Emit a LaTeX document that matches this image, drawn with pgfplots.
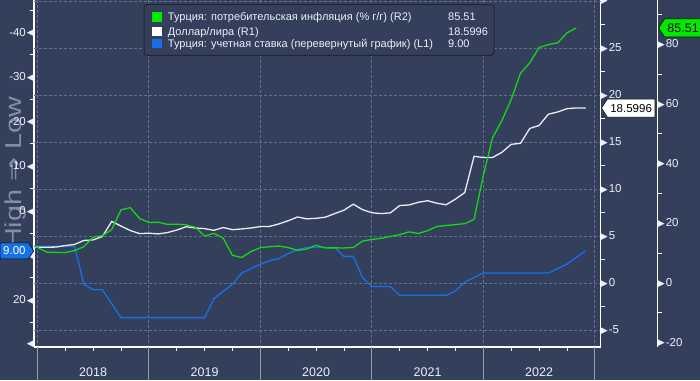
\documentclass[border=0pt]{standalone}
\usepackage{fontspec}
\setmainfont{Liberation Sans}
\newfontfamily\symfont{DejaVu Sans}
\usepackage{pgfplots}
\usepackage{pgfplotstable}
\pgfplotsset{compat=1.18}
\usetikzlibrary{shapes.symbols}
\definecolor{bg}{RGB}{52,63,92}
\definecolor{gridc}{RGB}{96,113,146}
\definecolor{gline}{RGB}{20,215,20}
\definecolor{gtag}{RGB}{0,235,0}
\definecolor{wline}{RGB}{236,236,242}
\definecolor{bline}{RGB}{22,112,232}
\definecolor{tickc}{RGB}{236,240,248}
\definecolor{yearline}{RGB}{150,156,172}
\definecolor{wm}{RGB}{132,141,162}
\newcommand\ltri{\raisebox{0.3pt}{\symfont\fontsize{9}{9}\selectfont\char"25C0}}
\newcommand\rtri{\raisebox{0.3pt}{\symfont\fontsize{9}{9}\selectfont\char"25B6}}

% inflation, % y/y (R2) -- x = months since Jan 2018
\pgfplotstableread{
m v
-1 12.98
0 11.92
1 10.35
2 10.26
3 10.23
4 10.85
5 12.15
6 15.39
7 15.85
8 17.90
9 24.52
10 25.24
11 21.62
12 20.30
13 20.35
14 19.67
15 19.71
16 19.50
17 18.71
18 15.72
19 16.65
20 15.01
21 9.26
22 8.55
23 10.56
24 11.84
25 12.15
26 12.37
27 11.86
28 10.94
29 11.39
30 12.62
31 11.76
32 11.77
33 11.75
34 11.89
35 14.03
36 14.60
37 14.97
38 15.61
39 16.19
40 17.14
41 16.59
42 17.53
43 18.95
44 19.25
45 19.58
46 19.89
47 21.31
48 36.08
49 48.69
50 54.44
51 61.5
52 70.3
53 73.8
54 78.9
55 79.9
56 80.5
57 83.8
58 85.51
}\infl

% USD/TRY (R1)
\pgfplotstableread{
m v
-1 3.94
0 3.79
1 3.80
2 3.82
3 3.98
4 4.10
5 4.52
6 4.58
7 4.95
8 6.55
9 6.05
10 5.58
11 5.25
12 5.30
13 5.22
14 5.36
15 5.63
16 5.98
17 5.85
18 5.78
19 5.60
20 5.90
21 5.67
22 5.75
23 5.85
24 6.00
25 6.02
26 6.28
27 6.62
28 7.02
29 6.82
30 6.88
31 7.00
32 7.38
33 7.74
34 8.38
35 7.80
36 7.47
37 7.38
38 7.46
39 8.24
40 8.30
41 8.58
42 8.75
43 8.48
44 8.32
45 8.92
46 9.62
47 13.47
48 13.35
49 13.35
50 13.90
51 14.75
52 14.85
53 16.44
54 16.75
55 17.95
56 18.19
57 18.54
58 18.62
59 18.5996
}\usd

% policy rate (L1, inverted)
\pgfplotstableread{
m v
-1 8
0 8
1 8
2 8
3 8
4 8
5 16.5
6 17.75
7 17.75
8 20.9
9 24
18 24
19 19.75
20 18.1
21 16.5
22 14
23 13
24 12
25 11.25
26 10.75
27 9.6
28 8.75
29 8.25
32 8.25
33 10.25
34 10.25
35 15
36 17
38 17
39 19
44 19
45 18
46 16
47 15
48 14
55 14
56 13
57 12
58 10.5
59 9
}\rate

\pgfplotsset{
  base/.style={
    scale only axis, width=566.7pt, height=347pt,
    xmin=-0.366, xmax=60.634,
    anchor=south west, clip mode=individual,
    major tick length=0pt, minor tick length=4pt, tick align=outside,
    minor tick style={draw=white, line width=0.8pt},
    tick label style={font=\fontsize{11.5}{12}\selectfont, text=tickc, inner sep=0pt},
    x axis line style={-, draw=white, line width=1.2pt},
    y axis line style={-, draw=white, line width=1.2pt},
    major grid style={gridc, dash pattern=on 2.5pt off 2.5pt, line width=0.8pt},
  },
}

\begin{document}
\begin{tikzpicture}[x=1pt,y=1pt]
\clip (0,0) rectangle (700,380);
\fill[bg] (0,0) rectangle (700,380);
\node[rotate=90, text=wm, font=\fontsize{23}{23}\selectfont, xscale=1.25] at (16,207) {High {\symfont ⇒} Low};

% L1: policy rate, inverted
\begin{axis}[base, at={(34pt,33pt)},
  y dir=reverse, ymin=-47.3, ymax=30.6,
  axis x line*=bottom, axis y line*=left,
  xtick={0,12,...,60}, xticklabels={}, xmajorgrids,
  ytick={-40,-30,-20,-10,0,10,20},
  yticklabels={{-40\kern1pt\ltri},{-30\kern1pt\ltri},{-20\kern1pt\ltri},{-10\kern1pt\ltri},{0\kern1pt\ltri},{10\kern1pt\ltri},{20\kern1pt\ltri}},
  minor ytick={-45,-35,-25,-15,-5,5,15,25},
  extra y ticks={30}, extra y tick labels={\ltri},
]
\addplot[bline, line width=1.3pt] table[x=m,y=v] {\rate};
\node[signal, signal to=east, signal pointer angle=115, fill=bline, draw=black, line width=0.5pt,
  text=white, font=\fontsize{11.5}{12}\selectfont, inner xsep=3pt, inner ysep=2pt, minimum height=16pt,
  anchor=east] at (axis cs:-0.366,9) {9.00};
\end{axis}

% R1: USD/TRY
\begin{axis}[base, at={(34pt,33pt)},
  ymin=-6.81, ymax=30.1,
  axis x line=none, axis y line*=right,
  ytick={-5,0,5,10,15,20,25},
  yticklabels={{\rtri\kern1pt-5},{\rtri\kern1pt0},{\rtri\kern1pt5},{\rtri\kern1pt10},{\rtri\kern1pt15},{\rtri\kern1pt20},{\rtri\kern1pt25}},
  minor ytick={-2.5,2.5,7.5,12.5,17.5,22.5,27.5},
  extra y ticks={30}, extra y tick labels={\rtri},
  ymajorgrids, extra y tick style={grid=major},
]
\addplot[wline, line width=1.3pt] table[x=m,y=v] {\usd};
\node[signal, signal to=west, signal pointer angle=115, fill=white, draw=black, line width=0.5pt,
  text=black, font=\fontsize{11.5}{12}\selectfont, inner xsep=3pt, inner ysep=2pt, minimum height=18pt,
  anchor=west] at (axis cs:60.7,18.5996) {18.5996};
\end{axis}

% R2: inflation
\begin{axis}[base, at={(34pt,33pt)}, width=623.7pt,
  xmin=-0.366, xmax=66.769,
  ymin=-21.45, ymax=94.84,
  axis x line=none, axis y line*=right,
  ytick={-20,0,20,40,60,80},
  yticklabels={{\rtri\kern1pt-20},{\rtri\kern1pt0},{\rtri\kern1pt20},{\rtri\kern1pt40},{\rtri\kern1pt60},{\rtri\kern1pt80}},
  minor ytick={-10,10,30,50,70,90},
]
\addplot[gline, line width=1.3pt] table[x=m,y=v] {\infl};
\node[signal, signal to=west, signal pointer angle=115, fill=gtag, draw=black, line width=0.5pt,
  text=black, font=\fontsize{12.5}{13}\selectfont, inner xsep=3pt, inner ysep=2pt, minimum height=18pt,
  anchor=west] at (axis cs:66.85,85.51) {85.51};
\end{axis}

% time strip
\begin{axis}[base, at={(34pt,0pt)}, height=33pt,
  ymin=0, ymax=1,
  axis x line*=top, axis y line=none,
  x axis line style={draw=none},
  tick align=inside,
  xtick={0,12,...,60}, xticklabels={},
  minor xtick={3,6,9,15,18,21,27,30,33,39,42,45,51,54,57},
  xmajorgrids, major grid style={yearline, solid, line width=1pt},
]
\node[font=\fontsize{12.5}{13}\selectfont, text=tickc] at (axis cs:6,0.24) {2018};
\node[font=\fontsize{12.5}{13}\selectfont, text=tickc] at (axis cs:18,0.24) {2019};
\node[font=\fontsize{12.5}{13}\selectfont, text=tickc] at (axis cs:30,0.24) {2020};
\node[font=\fontsize{12.5}{13}\selectfont, text=tickc] at (axis cs:42,0.24) {2021};
\node[font=\fontsize{12.5}{13}\selectfont, text=tickc] at (axis cs:54,0.24) {2022};
\end{axis}

% legend
\draw[black!85, fill=bg, rounded corners=3pt, line width=1pt] (144,375.3) rectangle (494,324.5);
\fill[gtag] (152,368) rectangle (162,358.3);
\fill[white] (152,353.3) rectangle (162,344);
\fill[bline] (152,340.7) rectangle (162,331.7);
\begin{scope}[every node/.style={anchor=base west, inner sep=0pt, text=tickc, font=\fontsize{11}{12}\selectfont}]
\node at (167.7,359.3) {Турция: потребительская инфляция (\% г/г) (R2)};
\node at (167.7,344.8) {Доллар/лира (R1)};
\node at (167.7,332.3) {Турция: учетная ставка (перевернутый график) (L1)};
\node at (448,359.3) {85.51};
\node at (448,344.8) {18.5996};
\node at (448,332.3) {9.00};
\end{scope}
\end{tikzpicture}
\end{document}
